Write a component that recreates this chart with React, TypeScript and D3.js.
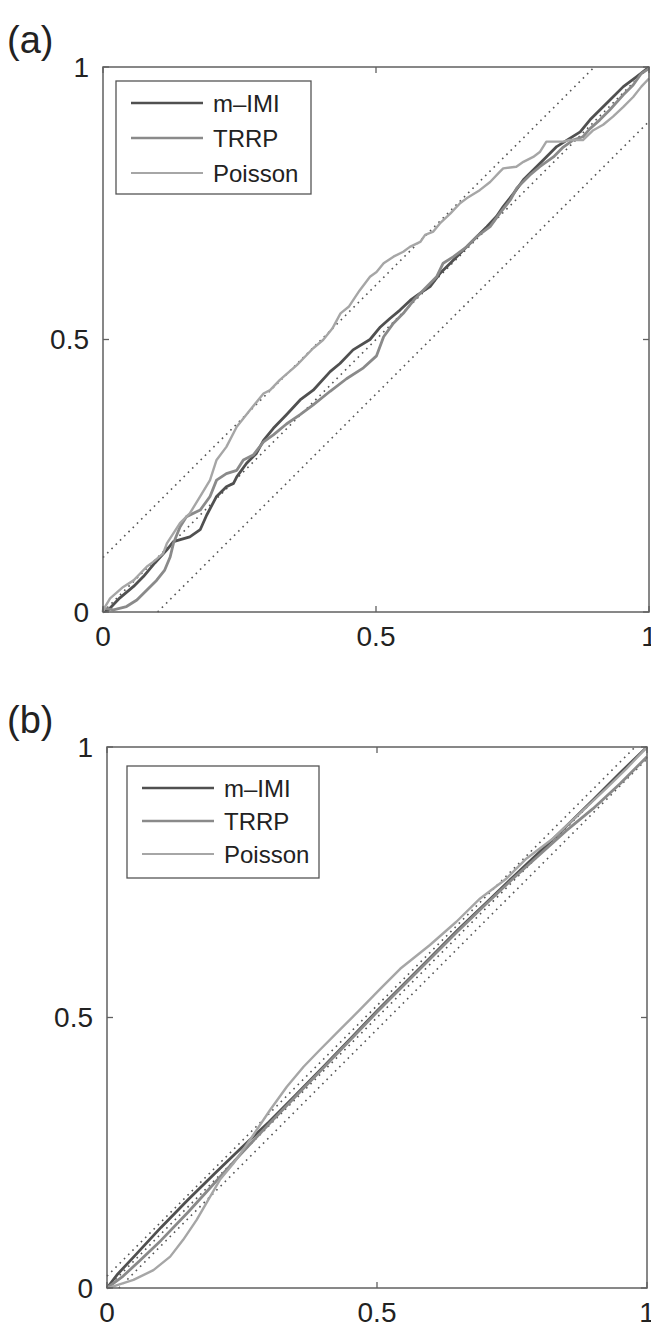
import React from 'react';
import * as d3 from 'd3';

const seriesNames = ['m\u2013IMI', 'TRRP', 'Poisson'];
const tickValues = [0, 0.5, 1];
const tickLabels = ['0', '0.5', '1'];

const mimiA: [number, number][] = [
  [0, 0], [0.01, 0.004], [0.031, 0.026], [0.056, 0.047], [0.074, 0.065], [0.095, 0.09],
  [0.117, 0.114], [0.129, 0.129], [0.159, 0.138], [0.178, 0.151], [0.19, 0.178], [0.208, 0.212],
  [0.226, 0.23], [0.239, 0.236], [0.245, 0.248], [0.263, 0.273], [0.281, 0.291], [0.294, 0.315],
  [0.312, 0.337], [0.336, 0.362], [0.361, 0.389], [0.385, 0.407], [0.416, 0.441], [0.434, 0.456],
  [0.458, 0.481], [0.489, 0.5], [0.508, 0.523], [0.526, 0.539], [0.544, 0.554], [0.563, 0.572],
  [0.581, 0.585], [0.599, 0.597], [0.617, 0.621], [0.636, 0.64], [0.66, 0.664], [0.685, 0.689],
  [0.703, 0.707], [0.721, 0.726], [0.733, 0.744], [0.752, 0.768], [0.77, 0.793], [0.788, 0.811],
  [0.806, 0.829], [0.831, 0.854], [0.855, 0.869], [0.874, 0.881], [0.892, 0.903], [0.91, 0.921],
  [0.928, 0.939], [0.953, 0.964], [0.977, 0.982], [1, 1],
];
const trrpA: [number, number][] = [
  [0, 0], [0.001, 0.007], [0.019, 0.004], [0.043, 0.01], [0.062, 0.022], [0.08, 0.04],
  [0.098, 0.058], [0.113, 0.077], [0.123, 0.101], [0.129, 0.126], [0.141, 0.156], [0.153, 0.175],
  [0.178, 0.187], [0.196, 0.212], [0.208, 0.242], [0.226, 0.254], [0.245, 0.26], [0.257, 0.279],
  [0.275, 0.288], [0.294, 0.312], [0.312, 0.325], [0.336, 0.345], [0.361, 0.362], [0.385, 0.38],
  [0.416, 0.405], [0.446, 0.428], [0.477, 0.448], [0.501, 0.47], [0.514, 0.505], [0.532, 0.53],
  [0.55, 0.548], [0.569, 0.572], [0.587, 0.591], [0.611, 0.615], [0.623, 0.64], [0.642, 0.652],
  [0.666, 0.67], [0.685, 0.689], [0.709, 0.707], [0.727, 0.732], [0.746, 0.756], [0.758, 0.778],
  [0.782, 0.802], [0.8, 0.817], [0.825, 0.835], [0.843, 0.853], [0.861, 0.866], [0.879, 0.872],
  [0.892, 0.887], [0.91, 0.903], [0.928, 0.921], [0.953, 0.949], [0.971, 0.967], [0.986, 0.988],
  [1, 0.997],
];
const poissonA: [number, number][] = [
  [0, 0], [0.004, 0.01], [0.013, 0.025], [0.037, 0.046], [0.056, 0.058], [0.08, 0.083],
  [0.092, 0.092], [0.11, 0.107], [0.117, 0.126], [0.141, 0.163], [0.159, 0.181], [0.178, 0.212],
  [0.196, 0.242], [0.208, 0.279], [0.226, 0.303], [0.245, 0.34], [0.269, 0.37], [0.294, 0.401],
  [0.306, 0.407], [0.324, 0.426], [0.355, 0.453], [0.385, 0.484], [0.403, 0.499], [0.42, 0.52],
  [0.435, 0.548], [0.45, 0.56], [0.47, 0.59], [0.489, 0.615], [0.501, 0.624], [0.514, 0.64],
  [0.532, 0.652], [0.55, 0.661], [0.562, 0.67], [0.581, 0.679], [0.59, 0.692], [0.605, 0.698],
  [0.617, 0.713], [0.636, 0.731], [0.654, 0.75], [0.666, 0.759], [0.69, 0.774], [0.709, 0.789],
  [0.727, 0.808], [0.733, 0.814], [0.757, 0.817], [0.77, 0.826], [0.788, 0.835], [0.8, 0.844],
  [0.812, 0.863], [0.843, 0.863], [0.855, 0.866], [0.879, 0.866], [0.898, 0.884], [0.916, 0.894],
  [0.934, 0.909], [0.953, 0.927], [0.971, 0.945], [0.986, 0.964], [1, 0.979],
];

const mimiB: [number, number][] = [
  [0, 0], [0.02, 0.026], [0.05, 0.058], [0.1, 0.112], [0.15, 0.163], [0.2, 0.212], [0.25, 0.26],
  [0.3, 0.307], [0.35, 0.357], [0.4, 0.408], [0.45, 0.46], [0.5, 0.512], [0.55, 0.562],
  [0.6, 0.612], [0.65, 0.662], [0.7, 0.71], [0.75, 0.758], [0.8, 0.805], [0.85, 0.853],
  [0.9, 0.902], [0.95, 0.952], [1, 1],
];
const trrpB: [number, number][] = [
  [0, 0], [0.03, 0.022], [0.06, 0.05], [0.1, 0.088], [0.15, 0.14], [0.2, 0.195], [0.25, 0.25],
  [0.3, 0.303], [0.35, 0.355], [0.4, 0.406], [0.45, 0.458], [0.5, 0.51], [0.55, 0.56],
  [0.6, 0.61], [0.65, 0.66], [0.7, 0.708], [0.75, 0.755], [0.8, 0.8], [0.85, 0.845],
  [0.9, 0.886], [0.95, 0.932], [1, 0.982],
];
const poissonB: [number, number][] = [
  [0, 0], [0.006, 0.001], [0.049, 0.015], [0.086, 0.033], [0.117, 0.058], [0.141, 0.089],
  [0.166, 0.126], [0.191, 0.169], [0.209, 0.2], [0.234, 0.23], [0.265, 0.274], [0.302, 0.329],
  [0.333, 0.372], [0.364, 0.409], [0.394, 0.44], [0.431, 0.477], [0.468, 0.514], [0.506, 0.553],
  [0.543, 0.59], [0.598, 0.634], [0.647, 0.677], [0.691, 0.72], [0.74, 0.757], [0.777, 0.794],
  [0.826, 0.831], [0.876, 0.878], [0.925, 0.924], [0.962, 0.96], [1, 1],
];

// confidence band half-widths
const bands = [0.1, 0.022];

const colors = ['#505050', '#8a8a8a', '#a6a6a6'];
const widths = [2.8, 2.8, 2.4];
const font = '"Liberation Sans", Arial, Helvetica, sans-serif';

type Panel = {
  label: string;
  left: number; top: number; w: number; h: number;
  band: number;
  series: [number, number][][];
  legend: { x: number; y: number; w: number; h: number; gap: number };
  labelY: number;
};

const panels: Panel[] = [
  { label: '(a)', left: 103, top: 67, w: 546, h: 545, band: bands[0], series: [mimiA, trrpA, poissonA],
    legend: { x: 116, y: 81, w: 195, h: 113, gap: 35 }, labelY: 53 },
  { label: '(b)', left: 107, top: 747, w: 540, h: 541, band: bands[1], series: [mimiB, trrpB, poissonB],
    legend: { x: 127, y: 766, w: 192, h: 112, gap: 33 }, labelY: 733 },
];

function KSPanel({ p }: { p: Panel }) {
  const x = d3.scaleLinear().domain([0, 1]).range([p.left, p.left + p.w]);
  const y = d3.scaleLinear().domain([0, 1]).range([p.top + p.h, p.top]);
  const line = d3.line<[number, number]>().x(d => x(d[0])).y(d => y(d[1]));
  const refLines: [number, number][][] = [
    [[0, p.band], [1 - p.band, 1]],
    [[0, 0], [1, 1]],
    [[p.band, 0], [1, 1 - p.band]],
  ];
  const tk = 6;
  const axisColor = '#606060';
  return (
    <g fontFamily={font}>
      <text x={7} y={p.labelY} fontSize={38} fill="#222">{p.label}</text>
      {refLines.map((r, i) => (
        <path key={'r' + i} d={line(r) || ''} fill="none" stroke="#555" strokeWidth={1.6}
          strokeDasharray="1.6,4.4" />
      ))}
      {p.series.map((s, i) => (
        <path key={'s' + i} d={line(s) || ''} fill="none" stroke={colors[i]} strokeWidth={widths[i]}
          strokeLinejoin="round" />
      ))}
      <rect x={p.left} y={p.top} width={p.w} height={p.h} fill="none" stroke={axisColor} strokeWidth={1.5} />
      {tickValues.map((t, i) => (
        <g key={'t' + i} stroke={axisColor} strokeWidth={1.3}>
          <line x1={x(t)} x2={x(t)} y1={y(0)} y2={y(0) - tk} />
          <line x1={x(t)} x2={x(t)} y1={y(1)} y2={y(1) + tk} />
          <line x1={x(0)} x2={x(0) + tk} y1={y(t)} y2={y(t)} />
          <line x1={x(1)} x2={x(1) - tk} y1={y(t)} y2={y(t)} />
        </g>
      ))}
      {tickValues.map((t, i) => (
        <text key={'xl' + i} x={x(t)} y={y(0) + 34} fontSize={28} textAnchor="middle" fill="#222">
          {tickLabels[i]}
        </text>
      ))}
      {tickValues.map((t, i) => (
        <text key={'yl' + i} x={p.left - 14} y={y(t)} fontSize={28} textAnchor="end"
          dominantBaseline="central" fill="#222">{tickLabels[i]}</text>
      ))}
      <rect x={p.legend.x} y={p.legend.y} width={p.legend.w} height={p.legend.h} fill="#fff"
        stroke="#555" strokeWidth={1.3} />
      {seriesNames.map((n, i) => {
        const ly = p.legend.y + 22 + i * p.legend.gap;
        return (
          <g key={'l' + i}>
            <line x1={p.legend.x + 15} x2={p.legend.x + 87} y1={ly} y2={ly} stroke={colors[i]}
              strokeWidth={i === 2 ? 1.8 : 2.4} />
            <text x={p.legend.x + 97} y={ly} fontSize={24} dominantBaseline="central" fill="#222">{n}</text>
          </g>
        );
      })}
    </g>
  );
}

export default function App() {
  return (
    <svg width={651} height={1328} style={{ position: 'absolute', left: 0, top: 0, background: '#fff' }}>
      {panels.map((p, i) => <KSPanel key={i} p={p} />)}
    </svg>
  );
}
